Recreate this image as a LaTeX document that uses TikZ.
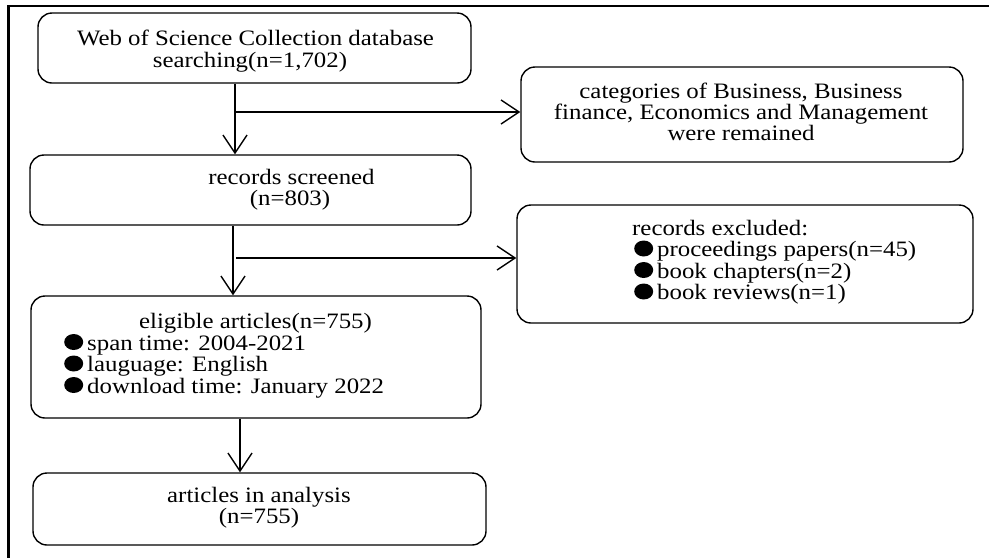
\documentclass[tikz,border=0pt]{standalone}
\usepackage{fontspec}
\setmainfont{Liberation Serif}[FakeStretch=1.13]
\usetikzlibrary{arrows.meta}
\newcommand\bul{\tikz[baseline=0pt]{\path (0,0) rectangle (23pt,1pt);\fill (9.5pt,8pt) ellipse (9.5pt and 8pt);}}
\tikzset{
  box/.style={draw, line width=1.4pt, rounded corners=14pt, inner sep=0pt},
  txt/.style={inner sep=0pt, font=\fontsize{22}{21.5}\selectfont},
  arr/.style={line width=1.4pt, -{Straight Barb[length=18pt,width=24pt,line width=1.4pt]}},
  ln/.style={line width=1.4pt}
}
\begin{document}
\begin{tikzpicture}[x=1pt,y=-1pt]
\useasboundingbox (0,0) rectangle (989,558);
% outer frame
\draw[line width=2.2pt] (989,6) -- (8.5,6) -- (8.5,558);
% boxes
\node (b1) [box, minimum width=433pt, minimum height=70pt] at (254.5,48) {};
\node (b2) [box, minimum width=441pt, minimum height=70pt] at (250.5,190) {};
\node (b3) [box, minimum width=450pt, minimum height=122pt] at (256,357) {};
\node (b4) [box, minimum width=453pt, minimum height=72pt] at (259.5,509) {};
\node (r1) [box, minimum width=442pt, minimum height=95pt] at (742,114.5) {};
\node (r2) [box, minimum width=456pt, minimum height=118pt] at (745,264) {};
% texts
\node (t11) [txt, anchor=base] at (255.5,45) {Web of Science Collection database};
\node (t12) [txt, anchor=base] at (250,67) {searching(n=1,702)};
\node (t21) [txt, anchor=base] at (291.5,184) {records screened};
\node (t22) [txt, anchor=base] at (290,205.5) {(n=803)};
\node (t31) [txt, anchor=base] at (255.5,328) {eligible articles(n=755)};
\node (t32) [txt, anchor=base west] at (64,350) {\bul span time: 2004-2021};
\node (t33) [txt, anchor=base west] at (64,371.5) {\bul lauguage: English};
\node (t34) [txt, anchor=base west] at (64,393) {\bul download time: January 2022};
\node (t41) [txt, anchor=base] at (259,502) {articles in analysis};
\node (t42) [txt, anchor=base] at (259,523.5) {(n=755)};
\node (u11) [txt, anchor=base] at (741,98) {categories of Business, Business};
\node (u12) [txt, anchor=base] at (741,119.5) {finance, Economics and Management};
\node (u13) [txt, anchor=base] at (741,140) {were remained};
\node (u21) [txt, anchor=base west] at (632,235) {records excluded:};
\node (u22) [txt, anchor=base west] at (634,256.5) {\bul proceedings papers(n=45)};
\node (u23) [txt, anchor=base west] at (634,278) {\bul book chapters(n=2)};
\node (u24) [txt, anchor=base west] at (634,299.5) {\bul book reviews(n=1)};
% connectors
\coordinate (c1) at (235,112);
\coordinate (c2) at (233,258);
\coordinate (c3) at (240,445);
\draw[arr] (c1 |- b1.south) -- (c1 |- b2.north);
\draw[arr] (c1) -- (c1 -| r1.west);
\draw[arr] (c2 |- b2.south) -- (c2 |- b3.north);
\draw[arr] ([xshift=3pt]c2) -- (c2 -| r2.west);
\draw[arr] (c3 |- b3.south) -- (c3 |- b4.north);
\end{tikzpicture}
\end{document}
